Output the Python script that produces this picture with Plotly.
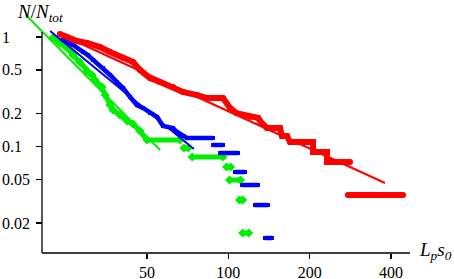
import math
import plotly.graph_objects as go

# ---- data ----
x_ticks = [50, 100, 200, 400]
y_ticks = [1, 0.5, 0.2, 0.1, 0.05, 0.02]
y_tick_labels = ["1", "0.5", "0.2", "0.1", "0.05", "0.02"]

red_L = [23.8, 25.3, 27.5, 30.0, 33.5, 36.5, 40.8, 44.4, 47.1, 51.3, 55.9, 62.4, 67.9, 76.6, 83.4,
         95.6, 101.4, 107.0, 120.3, 129.0, 131.0, 139.0, 155.3, 158.0, 164.9, 169.1, 205.8, 205.8,
         231.8, 231.8, 282.0, None, 277.0, 443.0]
red_N = [1.065, 1.0, 0.919, 0.882, 0.810, 0.730, 0.643, 0.591, 0.500, 0.422, 0.388, 0.349, 0.315, 0.295, 0.277,
         0.277, 0.225, 0.202, 0.186, 0.182, 0.171, 0.1475, 0.1475, 0.1247, 0.1247, 0.1099, 0.1099, 0.0891,
         0.0891, 0.0722, 0.0722, None, 0.0361, 0.0361]

blue_L = [24.4, 26.6, 29.0, 30.2, 31.6, 34.4, 36.5, 38.7, 40.8, 43.3, 45.9, 48.3, 51.3, 54.5, 57.3, 62.4,
          64.6, 67.9, 70.3, 87.8, None,
          87.8, 95.6, None, 93.2, 108.6, None, 105.8, 115.3, None, 112.3, 128.8, None,
          125.5, 140.2, None, 136.7, 145.0]
blue_N = [0.939, 0.845, 0.730, 0.685, 0.617, 0.521, 0.450, 0.388, 0.342, 0.283, 0.239, 0.225, 0.2022, 0.186,
          0.1539, 0.1475, 0.1356, 0.1247, 0.1196, 0.1196, None,
          0.1032, 0.1032, None, 0.0872, 0.0872, None, 0.0585, 0.0585, None, 0.0445, 0.0445, None,
          0.0292, 0.0292, None, 0.0146, 0.0146]

green_L = [22.4, 23.8, 25.3, 26.6, 28.2, 30.0, 31.3, 32.1, 34.1, 35.0, 36.5, 37.4, 39.7, 42.2, 44.4, 47.1,
           50.0, 66.2, None,
           68.5, 71.0, None, 73.5, 95.5, None, 98.5, 102.0, None, 101.0, 111.0, None,
           110.0, 113.0, None, 113.0, 119.0]
green_N = [0.979, 0.882, 0.794, 0.685, 0.591, 0.489, 0.450, 0.405, 0.349, 0.295, 0.239, 0.2154, 0.194, 0.171,
           0.1605, 0.1385, 0.1147, 0.1147, None,
           0.0969, 0.0969, None, 0.0802, 0.0802, None, 0.0650, 0.0650, None, 0.0494, 0.0494, None,
           0.0325, 0.0325, None, 0.0162, 0.0162]

red_fit_L = [24.2, 380.0]
red_fit_N = [1.043, 0.0464]
blue_fit_L = [21.9, 74.6]
blue_fit_N = [1.134, 0.0949]
green_fit_L = [17.8, 55.9]
green_fit_N = [1.588, 0.0929]

RED = "#ff0000"
BLUE = "#0000ff"
GREEN = "#00ee00"
FONT = "Liberation Serif, Times New Roman, DejaVu Serif, serif"

W, H = 454, 279
ML, MR, MT, MB = 20, 44, 10, 26
PW, PH = W - ML - MR, H - MT - MB


def px_to_paper_x(px):
    return (px - ML) / PW


def px_to_paper_y(py):
    return (H - MB - py) / PH


fig = go.Figure()

fig.add_trace(go.Scatter(x=green_L, y=green_N, mode="lines+markers",
                         line=dict(color=GREEN, width=5),
                         marker=dict(symbol="diamond", size=7, color=GREEN),
                         connectgaps=False, showlegend=False, cliponaxis=False))
fig.add_trace(go.Scatter(x=blue_L, y=blue_N, mode="lines+markers",
                         line=dict(color=BLUE, width=4.5),
                         marker=dict(symbol="square", size=4, color=BLUE),
                         connectgaps=False, showlegend=False, cliponaxis=False))
fig.add_trace(go.Scatter(x=red_L, y=red_N, mode="lines+markers",
                         line=dict(color=RED, width=6),
                         marker=dict(symbol="circle", size=6, color=RED),
                         connectgaps=False, showlegend=False, cliponaxis=False))

for fx, fy, c in [(green_fit_L, green_fit_N, GREEN), (blue_fit_L, blue_fit_N, BLUE),
                  (red_fit_L, red_fit_N, RED)]:
    fig.add_trace(go.Scatter(x=fx, y=fy, mode="lines", line=dict(color=c, width=2),
                             showlegend=False))

y_axis_pos = px_to_paper_x(42)

fig.update_layout(
    template="none",
    width=W, height=H,
    margin=dict(l=ML, r=MR, t=MT, b=MB, pad=0, autoexpand=False),
    paper_bgcolor="white", plot_bgcolor="white",
    font=dict(family=FONT, size=16, color="black"),
    xaxis=dict(type="log", range=[1.22895, 2.67232], tickvals=x_ticks,
               ticktext=[str(v) for v in x_ticks], automargin=False,
               ticks="outside", ticklen=5, tickwidth=1.3, tickcolor="black",
               showgrid=False, zeroline=False, showline=False,
               tickfont=dict(family=FONT, size=16)),
    yaxis=dict(type="log", range=[-1.97260, 0.24658], tickvals=y_ticks,
               showticklabels=False, anchor="free", position=y_axis_pos, automargin=False,
               ticks="outside", ticklen=6, tickwidth=1.3, tickcolor="black",
               showgrid=False, zeroline=False, showline=False),
)

# axis lines
fig.add_shape(type="line", xref="paper", yref="paper", x0=y_axis_pos, x1=1, y0=0, y1=0,
              line=dict(color="black", width=1.3))
fig.add_shape(type="line", xref="paper", yref="paper", x0=y_axis_pos, x1=y_axis_pos,
              y0=0, y1=px_to_paper_y(32), line=dict(color="black", width=1.3))

# y tick labels (left-aligned, as in the original)
for v, t in zip(y_ticks, y_tick_labels):
    fig.add_annotation(x=px_to_paper_x(0), xref="paper", xanchor="left",
                       y=math.log10(v), yref="y", yanchor="middle",
                       text=t, showarrow=False, font=dict(family=FONT, size=16))

fig.add_annotation(x=px_to_paper_x(15), xref="paper", xanchor="left",
                   y=px_to_paper_y(-1), yref="paper", yanchor="top",
                   text="<i>N</i>/<i>N<sub>tot</sub></i>", showarrow=False,
                   font=dict(family=FONT, size=19))
fig.add_annotation(x=px_to_paper_x(417), xref="paper", xanchor="left",
                   y=px_to_paper_y(251), yref="paper", yanchor="middle",
                   text="<i>L<sub>p</sub>s<sub>0</sub></i>", showarrow=False,
                   font=dict(family=FONT, size=19))

fig.write_html("out.html",
               config={"displayModeBar": False, "staticPlot": True},
               post_script="document.body.style.margin='0';document.body.style.overflow='hidden';")
